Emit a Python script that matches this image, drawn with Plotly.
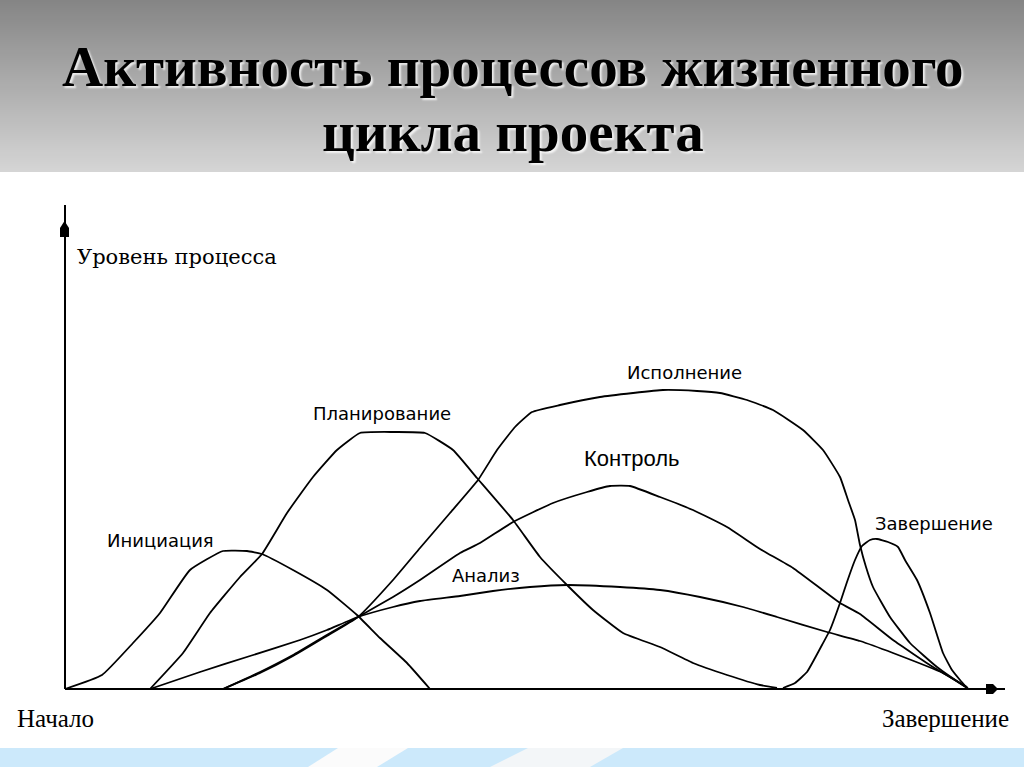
import plotly.graph_objects as go

# ---- data: time (from project start) and process level ----
init_t = [0, 37, 68, 95, 125, 158, 182, 197, 228, 262, 292, 315, 342, 365]
init_v = [0, 14, 46, 76, 119, 138, 138, 135, 119, 99, 74, 51, 26, 0]

plan_t = [85, 118, 145, 175, 197, 222, 248, 272, 295, 328, 360, 388, 412, 448, 475, 502, 528, 558, 595, 628, 662, 695, 712]
plan_v = [0, 36, 76, 112, 135, 176, 212, 239, 256, 257, 256, 239, 211, 169, 132, 104, 79, 56, 42, 26, 14, 4, 1]

anal_t = [85, 135, 185, 235, 262, 293, 328, 355, 395, 428, 465, 502, 555, 595, 635, 678, 712, 762, 795, 828, 878, 902]
anal_v = [0, 17, 33, 49, 59, 72, 82, 88, 93, 98, 102, 104, 102, 99, 92, 82, 72, 57, 48, 36, 16, 1]

exec_t = [158, 195, 228, 260, 293, 328, 355, 385, 413, 432, 450, 467, 495, 535, 568, 598, 632, 655, 682, 708, 738, 758, 775, 783, 790, 795, 801, 808, 825, 845, 872, 898, 903]
exec_v = [0, 16, 33, 52, 72, 109, 141, 176, 209, 239, 262, 277, 284, 292, 296, 299, 298, 296, 289, 279, 259, 239, 212, 189, 169, 144, 122, 102, 72, 46, 22, 4, 1]

ctrl_t = [158, 195, 228, 260, 293, 328, 355, 395, 415, 448, 488, 522, 545, 565, 595, 628, 662, 695, 728, 775, 795, 828, 868, 902]
ctrl_v = [0, 17, 34, 53, 72, 92, 109, 136, 146, 167, 186, 197, 203, 203, 192, 179, 162, 140, 121, 86, 75, 49, 22, 2]

comp_t = [718, 730, 742, 750, 757, 765, 775, 782, 790, 797, 805, 812, 823, 833, 840, 852, 865, 878, 887, 895, 902]
comp_v = [1, 6, 17, 31, 44, 59, 86, 107, 129, 143, 149, 150, 147, 142, 129, 109, 76, 36, 19, 9, 1]

series = [
    (init_t, init_v), (plan_t, plan_v), (anal_t, anal_v),
    (exec_t, exec_v), (ctrl_t, ctrl_v), (comp_t, comp_v),
]

title_lines = ["Активность процессов жизненного", "цикла проекта"]
y_axis_label = "Уровень процесса"
x_start_label = "Начало"
x_end_label = "Завершение"
curve_labels = ["Инициация", "Планирование", "Анализ", "Исполнение", "Контроль", "Завершение"]

W, H = 1024, 767
OX, OY = 65, 689  # pixel position of the chart origin


def px(x):
    return x / W


def py(y):
    return 1 - y / H


fig = go.Figure()
for t, v in series:
    fig.add_trace(go.Scatter(x=t, y=v, mode="lines",
                             line=dict(color="black", width=1.8, shape="spline", smoothing=0.4),
                             hoverinfo="skip", showlegend=False))

shapes = []
# header gradient
top = (133, 133, 133)
bot = (213, 213, 213)
n = 86
hh = 172
for i in range(n):
    f = i / (n - 1)
    c = tuple(int(round(top[k] + (bot[k] - top[k]) * f)) for k in range(3))
    y0 = hh * i / n
    y1 = hh * (i + 1) / n + 0.6
    shapes.append(dict(type="rect", xref="paper", yref="paper", x0=0, x1=1,
                       y0=py(min(y1, hh)), y1=py(y0), line=dict(width=0),
                       fillcolor="rgb(%d,%d,%d)" % c, layer="below"))

# bottom band with stripes
shapes.append(dict(type="rect", xref="paper", yref="paper", x0=0, x1=1, y0=0, y1=py(748),
                   line=dict(width=0), fillcolor="#cce9fb", layer="below"))


def poly(pts, color):
    d = "M " + " L ".join("%f,%f" % (px(a), py(b)) for a, b in pts) + " Z"
    return dict(type="path", xref="paper", yref="paper", path=d, line=dict(width=0),
                fillcolor=color, layer="below")


shapes.append(poly([(338, 748), (408, 748), (377, 767), (308, 767)], "#fbfbfb"))
shapes.append(poly([(528, 748), (623, 748), (590, 767), (490, 767)], "#f3f6f8"))

# axes
shapes.append(dict(type="line", xref="paper", yref="paper", x0=px(OX), x1=px(OX), y0=py(205), y1=py(OY),
                   line=dict(color="black", width=2)))
shapes.append(dict(type="line", xref="paper", yref="paper", x0=px(OX), x1=px(1005), y0=py(OY), y1=py(OY),
                   line=dict(color="black", width=2)))
shapes.append(poly([(60, 237), (60, 228), (64.5, 221), (69, 228), (69, 237)], "black"))
shapes.append(poly([(986, 684), (993, 684), (998, 689), (993, 694), (986, 694)], "black"))

ann = []
title_font = dict(family="Liberation Serif", size=57, color="black",
                  shadow="2px 2px 2px rgba(255,255,255,0.8)", weight="bold")
ann.append(dict(text="<b>%s</b>" % title_lines[0], x=px(513), y=py(67), xref="paper", yref="paper",
                showarrow=False, xanchor="center", yanchor="middle", font=title_font))
ann.append(dict(text="<b>%s</b>" % title_lines[1], x=px(513), y=py(132), xref="paper", yref="paper",
                showarrow=False, xanchor="center", yanchor="middle", font=title_font))

ann.append(dict(text=y_axis_label, x=px(75), y=py(257), xref="paper", yref="paper", showarrow=False,
                xanchor="left", yanchor="middle", font=dict(family="DejaVu Serif", size=21, color="black")))
ann.append(dict(text=x_start_label, x=px(55), y=py(718), xref="paper", yref="paper", showarrow=False,
                xanchor="center", yanchor="middle", font=dict(family="Liberation Serif", size=25, color="black")))
ann.append(dict(text=x_end_label, x=px(945), y=py(718), xref="paper", yref="paper", showarrow=False,
                xanchor="center", yanchor="middle", font=dict(family="Liberation Serif", size=25, color="black")))

label_pos = [(160, 540), (382, 414), (486, 575), (684, 372), (632, 458), (934, 523)]
for i, (lab, (lx, ly)) in enumerate(zip(curve_labels, label_pos)):
    if lab == "Контроль":
        f = dict(family="Liberation Sans", size=22, color="black")
    else:
        f = dict(family="DejaVu Sans", size=18, color="black")
    ann.append(dict(text=lab, x=px(lx), y=py(ly), xref="paper", yref="paper", showarrow=False,
                    xanchor="center", yanchor="middle", font=f))

fig.update_layout(
    width=W, height=H, margin=dict(l=0, r=0, t=0, b=0),
    paper_bgcolor="white", plot_bgcolor="rgba(0,0,0,0)",
    xaxis=dict(range=[-OX, W - OX], visible=False, fixedrange=True),
    yaxis=dict(range=[OY - H, OY], visible=False, fixedrange=True),
    shapes=shapes, annotations=ann,
)

fig.write_html("out.html", config={"displayModeBar": False},
               post_script="document.body.style.margin='0';document.body.style.overflow='hidden';")
